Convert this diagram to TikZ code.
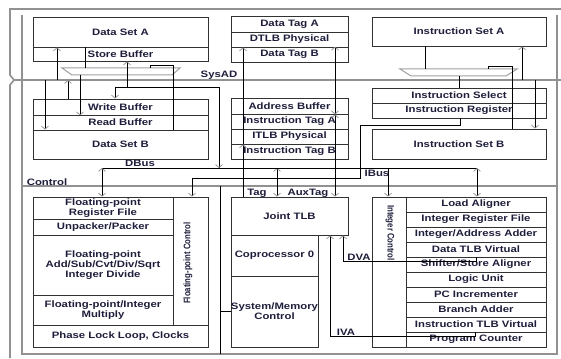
\documentclass[tikz,border=0pt]{standalone}
\usepackage{fontspec}
\setmainfont{Liberation Sans}[FakeStretch=1.22]
\newfontfamily\narrowfont{Liberation Sans}[FakeStretch=0.82]
\usetikzlibrary{arrows.meta}
\definecolor{txt}{RGB}{30,30,60}
\definecolor{busgray}{RGB}{145,145,145}
\definecolor{boxline}{RGB}{50,50,50}
\definecolor{headgray}{RGB}{140,140,140}
\definecolor{muxgray}{RGB}{160,160,160}
\begin{document}
\begin{tikzpicture}[x=1pt,y=-1pt,
  box/.style={draw=boxline, line width=0.8pt, inner sep=0pt, align=center, text=txt,
    font=\bfseries\fontsize{9.3}{8}\selectfont},
  lbl/.style={inner sep=0pt, text=txt, font=\bfseries\fontsize{9.3}{8}\selectfont},
  vlbl/.style={inner sep=0pt, text=txt, font=\narrowfont\bfseries\fontsize{9.5}{9}\selectfont},
  conn/.style={draw=black, line width=0.8pt},
  bus/.style={draw=busgray, line width=1.6pt},
  mux/.style={draw=muxgray, line width=1pt, fill=white},
  ah/.style={-{Straight Barb[length=3pt,width=7pt,line width=0.7pt,color=headgray]}},
  ahb/.style={{Straight Barb[length=3pt,width=7pt,line width=0.7pt,color=headgray]}-{Straight Barb[length=3pt,width=7pt,line width=0.7pt,color=headgray]}},
]
\useasboundingbox (0,0) rectangle (561,358);
\fill[white] (0,0) rectangle (561,358);

% frame and buses
\draw[bus] (10,358) -- (10,85) -- (14,80) -- (10,75) -- (10,9) -- (561,9);
\draw[bus] (22,15) -- (22,354) -- (557,354) -- (557,15);
\coordinate (sysL) at (14,80);
\coordinate (sysR) at (561,80);
\draw[bus] (sysL) -- (sysR);
\coordinate (ctlL) at (22,186);
\coordinate (ctlR) at (557,186);
\draw[bus] (ctlL) -- (ctlR);

% top row
\node[box,minimum width=175pt,minimum height=30pt] (dsa) at (120.5,32) {Data Set A};
\node[box,minimum width=175pt,minimum height=14pt] (sb) at (120.5,54) {Store Buffer};
\node[box,minimum width=117pt,minimum height=16pt] (dta) at (289.5,24) {Data Tag A};
\node[box,minimum width=117pt,minimum height=15pt] (dtlb) at (289.5,39.5) {DTLB Physical};
\node[box,minimum width=117pt,minimum height=15pt] (dtb) at (289.5,54.5) {Data Tag B};
\node[box,minimum width=174pt,minimum height=29pt] (isa) at (459,31.5) {Instruction Set A};

% second row
\node[box,minimum width=175pt,minimum height=16pt] (wb) at (120.5,107) {Write Buffer};
\node[box,minimum width=175pt,minimum height=15pt] (rb) at (120.5,122.5) {Read Buffer};
\node[box,minimum width=175pt,minimum height=29pt] (dsb) at (120.5,144.5) {Data Set B};
\node[box,minimum width=117pt,minimum height=16pt] (ab) at (289.5,106) {Address Buffer};
\node[box,minimum width=117pt,minimum height=15pt] (ita) at (289.5,121.5) {Instruction Tag A};
\node[box,minimum width=117pt,minimum height=15pt] (itlb) at (289.5,136.5) {ITLB Physical};
\node[box,minimum width=117pt,minimum height=15pt] (itb) at (289.5,151.5) {Instruction Tag B};
\node[box,minimum width=174pt,minimum height=15pt] (isel) at (459,95.5) {Instruction Select};
\node[box,minimum width=174pt,minimum height=15pt] (ireg) at (459,110.5) {Instruction Register};
\node[box,minimum width=174pt,minimum height=30pt] (isb) at (459,144) {Instruction Set B};

% floating point unit
\node[box,minimum width=140pt,minimum height=22pt] (fprf) at (103,208) {Floating-point\\Register File};
\node[box,minimum width=140pt,minimum height=16pt] (unp) at (103,227) {Unpacker/Packer};
\node[box,minimum width=140pt,minimum height=60pt,font=\bfseries\fontsize{9.3}{10}\selectfont] (fpadd) at (103,265) {Floating-point\\Add/Sub/Cvt/Div/Sqrt\\Integer Divide};
\node[box,minimum width=140pt,minimum height=30pt] (fpmul) at (103,310) {Floating-point/Integer\\Multiply};
\node[box,minimum width=35pt,minimum height=128pt] (fpc) at (190.5,261) {};
\node[vlbl,rotate=90] (fpctext) at (188,263) {Floating-point Control};
\node[box,minimum width=175pt,minimum height=22pt] (pll) at (120.5,336) {Phase Lock Loop, Clocks};

% middle column
\node[box,minimum width=117pt,minimum height=38pt] (jtlb) at (289.5,216) {Joint TLB};
\node[box,minimum width=87pt,minimum height=41pt] (cop0) at (274.5,255.5) {Coprocessor 0};
\node[box,minimum width=87pt,minimum height=71pt] (smc) at (274.5,311.5) {System/Memory\\Control};

% integer unit
\node[box,minimum width=34pt,minimum height=150pt] (ictl) at (389,272) {};
\node[vlbl,rotate=-90] (ictltext) at (390,233) {Integer Control};
\foreach \nm/\tx [count=\i from 0] in {la/Load Aligner, irf/Integer Register File, iaa/Integer\slash Address Adder, dtv/Data TLB Virtual, ssa/Shifter\slash Store Aligner, lu/Logic Unit, pci/PC Incrementer, ba/Branch Adder, itv/Instruction TLB Virtual, pc/Program Counter}
  \node[box,minimum width=140pt,minimum height=15pt] (\nm) at (476,204.5+15*\i) {\tx};

% multiplexers
\draw[mux] (62,68) -- (180,68) -- (172,75) -- (72,75) -- cycle;
\draw[mux] (400,69) -- (517,69) -- (506,76) -- (411,76) -- cycle;

% bus labels
\node[lbl] (lsys) at (219,75) {SysAD};
\node[lbl] (ldbus) at (140,163) {DBus};
\node[lbl] (libus) at (377,173.5) {IBus};
\node[lbl] (lctl) at (47,182) {Control};
\node[lbl] (ltag) at (257,193) {Tag};
\node[lbl] (laux) at (308,193) {AuxTag};
\node[lbl] (ldva) at (359,257) {DVA};
\node[lbl] (liva) at (346,332) {IVA};

% coordinates on buses and junctions
\coordinate (s45) at (45,80);
\coordinate (s57) at (57,80);
\coordinate (s68) at (68,80);
\coordinate (s522) at (522,80);
\coordinate (s535) at (535,80);
\coordinate (mlin1) at (85,68);
\coordinate (mlin2) at (150,68);
\coordinate (mlout) at (80,75);
\coordinate (mrin1) at (425,69);
\coordinate (mrin2) at (488,69);
\coordinate (mrout) at (459,76);
\coordinate (j87) at (115,87);
\coordinate (dbL) at (102,168);
\coordinate (dbR) at (477,168);
\coordinate (db219) at (219,168);
\coordinate (db277) at (277,168);
\coordinate (db388) at (388,168);
\coordinate (c220) at (220,186);
\coordinate (c220b) at (220,354);

% left cache connections
\draw[conn,ah] (s57) -- (s57 |- dsa.south);
\draw[conn,ah] (s45) -- (s45 |- dsb.north);
\draw[conn,ah] (s68 |- wb.north) -- (s68);
\draw[conn] (mlin1 |- dsa.south) -- (mlin1);
\draw[conn,ah] (mlout) -- (mlout |- wb.south);
\draw[conn] (dsb.north -| 173,0) -- (173,65) -- (150,65) -- (mlin2);
\draw[conn] (j87) -- (219,87) -- (db219);
\draw[conn,ah] (219,87) -- (db219);
\draw[conn,ah] (j87) -- (j87 |- wb.north);
\draw[conn,ah] (127,87) -- (127,87 |- sb.south);

% right cache connections
\draw[conn] (mrin1 |- isa.south) -- (mrin1);
\draw[conn] (mrout) -- (mrout |- isel.north);
\draw[conn] (isb.north -| 512,0) -- (512,66) -- (488,66) -- (mrin2);
\draw[conn,ah] (s522) -- (s522 |- isa.south);
\draw[conn,ah] (s535) -- (s535 |- isb.north);

% tag connections
\draw[conn,ah] (jtlb.north -| 243,0) -- (243,0 |- itlb.south);
\draw[conn,ah] (243,0 |- itlb.south) -- (243,0 |- dtlb.south);
\draw[conn,ahb] (dtb.north -| 335,0) -- (335,0 |- ab.south);
\draw[conn,ahb] (335,0 |- ab.south) -- (jtlb.north -| 335,0);
\draw[conn,ahb] (db277) -- (db277 |- jtlb.north);

% DBus / IBus
\draw[conn] (dbL) -- (dbR);
\draw[conn,ahb] (dbL) -- (dbL |- fprf.north);
\draw[conn,ahb] (dbR) -- (dbR |- la.north);
\draw[conn,ah] (db388) -- (db388 |- ictl.north);
\draw[conn,ah] (ireg.south -| 460,0) -- (460,125) -- (360,125) -- (360,178) -- (192,178) -- (192,0 |- fpc.north);

% DVA / IVA
\draw[conn,ah] (dtv.south -| 476,0) -- (476,261) -- (343,261) -- (343,0 |- jtlb.south);
\draw[conn,ah] (itv.south -| 475,0) -- (475,336) -- (330,336) -- (330,0 |- jtlb.south);

% control to system/memory control
\draw[conn] (c220) -- (c220b);
\draw[conn] (220,0 |- smc.west) -- (smc.west);
\end{tikzpicture}
\end{document}
